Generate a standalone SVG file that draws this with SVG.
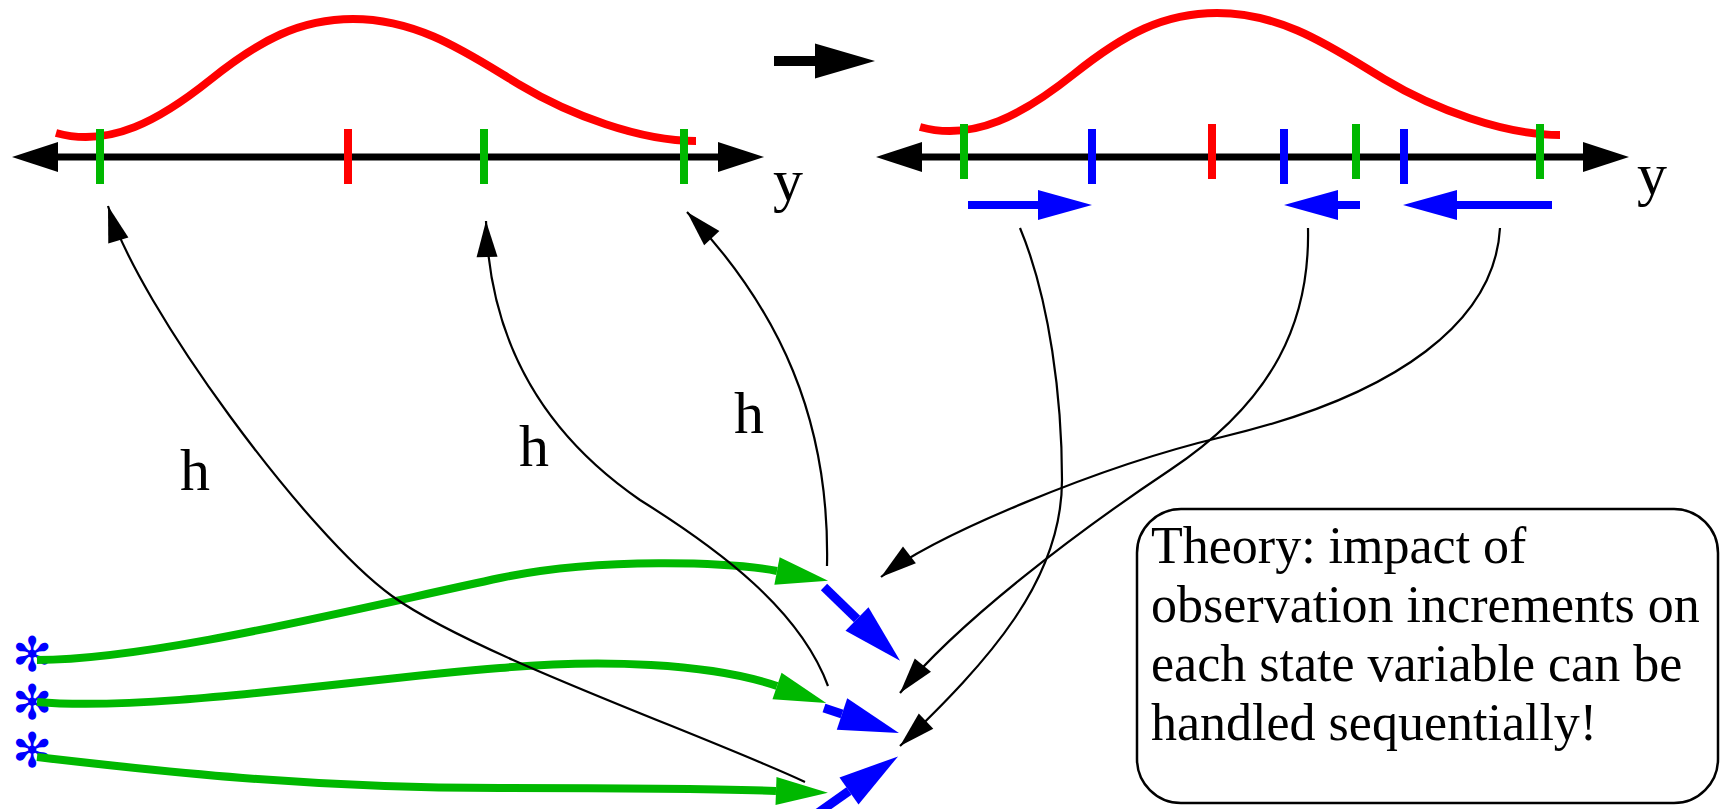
<svg xmlns="http://www.w3.org/2000/svg" width="1731" height="809" viewBox="0 0 1731 809">
<style>
.bg{fill:#fff}
.axis{stroke:#000;stroke-width:7;fill:none}
.tick{stroke-width:8;fill:none}
.g{stroke:#00b800}
.r{stroke:#ff0000}
.b{stroke:#0000ff}
.dist{stroke:#ff0000;stroke-width:8;fill:none}
.conn{stroke:#000;stroke-width:2.2;fill:none}
.garr{stroke:#00b800;stroke-width:8;fill:none}
.barr{stroke:#0000ff;stroke-width:9;fill:none}
.sbarr{stroke:#0000ff;stroke-width:8;fill:none}
.lbl{font-family:"Liberation Serif","Times New Roman",serif;fill:#000}
.box{fill:#fff;stroke:#000;stroke-width:2.5}
.star{fill:#0000ff;font-family:"DejaVu Sans",sans-serif}
</style>
<defs>
<marker id="ax" markerUnits="userSpaceOnUse" orient="auto-start-reverse" refX="0" refY="0" overflow="visible"><path d="M0,-15 L46,0 L0,15 z" fill="#000"/></marker>
<marker id="hb" markerUnits="userSpaceOnUse" orient="auto" refX="0" refY="0" overflow="visible"><path d="M0,0 L-36,-10.5 L-36,10.5 z" fill="#000"/></marker>
<marker id="hg" markerUnits="userSpaceOnUse" orient="auto" refX="0" refY="0" overflow="visible"><path d="M0,-14 L52,0 L0,14 z" fill="#00b800"/></marker>
<marker id="hbl" markerUnits="userSpaceOnUse" orient="auto" refX="0" refY="0" overflow="visible"><path d="M0,-16.5 L60,0 L0,16.5 z" fill="#0000ff"/></marker>
<marker id="hsb" markerUnits="userSpaceOnUse" orient="auto" refX="0" refY="0" overflow="visible"><path d="M0,-15 L54,0 L0,15 z" fill="#0000ff"/></marker>
<marker id="hk" markerUnits="userSpaceOnUse" orient="auto" refX="0" refY="0" overflow="visible"><path d="M0,-17.5 L60,0 L0,17.5 z" fill="#000"/></marker>
</defs>
<rect class="bg" x="0" y="0" width="1731" height="809"/>

<g id="prior">
<path class="dist" d="M56,133 C110,148 160,120 210,80 S300,19 353,19 C420,19 470,55 520,85 S640,141 696,141"/>
<path class="axis" d="M58,157 L718,157" marker-start="url(#ax)" marker-end="url(#ax)"/>
<line class="tick g" x1="100" y1="129" x2="100" y2="184"/>
<line class="tick r" x1="348" y1="129" x2="348" y2="184"/>
<line class="tick g" x1="484" y1="129" x2="484" y2="184"/>
<line class="tick g" x1="684" y1="129" x2="684" y2="184"/>
<text class="lbl" x="773" y="200" font-size="60">y</text>
</g>

<g id="step-arrow">
<path d="M774,61 L815,61" stroke="#000" stroke-width="10" fill="none" marker-end="url(#hk)"/>
</g>

<g id="posterior">
<path class="dist" transform="translate(864,-6)" d="M56,133 C110,148 160,120 210,80 S300,19 353,19 C420,19 470,55 520,85 S640,141 696,141"/>
<path class="axis" d="M922,157 L1583,157" marker-start="url(#ax)" marker-end="url(#ax)"/>
<line class="tick g" x1="964" y1="124" x2="964" y2="179"/>
<line class="tick b" x1="1092" y1="129" x2="1092" y2="184"/>
<line class="tick r" x1="1212" y1="124" x2="1212" y2="179"/>
<line class="tick b" x1="1284" y1="129" x2="1284" y2="184"/>
<line class="tick g" x1="1356" y1="124" x2="1356" y2="179"/>
<line class="tick b" x1="1404" y1="129" x2="1404" y2="184"/>
<line class="tick g" x1="1540" y1="124" x2="1540" y2="179"/>
<text class="lbl" x="1637" y="194" font-size="60">y</text>
<path class="sbarr" d="M968,205 L1038,205" marker-end="url(#hsb)"/>
<path class="sbarr" d="M1360,205 L1338,205" marker-end="url(#hsb)"/>
<path class="sbarr" d="M1552,205 L1457,205" marker-end="url(#hsb)"/>
</g>

<g id="state-vars">
<text class="star" font-size="48" text-anchor="middle"><tspan x="32" y="671">✻</tspan><tspan x="32" y="719">✻</tspan><tspan x="32" y="767">✻</tspan></text>
</g>

<g id="increments">
<path class="barr" d="M824,587 L857,619" marker-end="url(#hbl)"/>
<path class="barr" d="M824,708 L842,714" marker-end="url(#hbl)"/>
<path class="barr" d="M815,815 L849,791" marker-end="url(#hbl)"/>
</g>

<g id="connectors">
<path class="garr" d="M37,660 C150,660 350,610 500,578 C600,557 730,562 777,571" marker-end="url(#hg)"/>
<path class="garr" d="M37,702 C150,712 350,680 500,668 C600,659 710,663 777,686" marker-end="url(#hg)"/>
<path class="garr" d="M37,757 C150,770 300,788 500,788 C650,788 720,789 776,791" marker-end="url(#hg)"/>
<path class="conn" d="M805,782 C700,733 476,656 392,596 C308,536 138,306 108,206" marker-end="url(#hb)"/>
<path class="conn" d="M828,686 C800,610 720,550 640,500 C560,445 490,360 486,221" marker-end="url(#hb)"/>
<path class="conn" d="M827,566 C830,420 780,310 687,212" marker-end="url(#hb)"/>
<path class="conn" d="M1020,228 C1050,300 1062,400 1062,480 C1062,580 990,660 900,746" marker-end="url(#hb)"/>
<path class="conn" d="M1308,228 C1310,320 1275,400 1170,470 C1080,530 960,620 900,693" marker-end="url(#hb)"/>
<path class="conn" d="M1500,228 C1495,320 1400,395 1222,437 C1100,466 935,535 881,577" marker-end="url(#hb)"/>
</g>

<g id="h-labels">
<text class="lbl" x="180" y="490" font-size="60">h</text>
<text class="lbl" x="519" y="466" font-size="60">h</text>
<text class="lbl" x="734" y="433" font-size="60">h</text>
</g>

<g id="theory-note">
<rect class="box" x="1137" y="509" width="581" height="294" rx="44" ry="44"/>
<text class="lbl" font-size="52">
<tspan x="1151" y="563">Theory: impact of</tspan>
<tspan x="1151" y="622">observation increments on</tspan>
<tspan x="1151" y="681">each state variable can be</tspan>
<tspan x="1151" y="740">handled sequentially!</tspan>
</text>
</g>
</svg>
